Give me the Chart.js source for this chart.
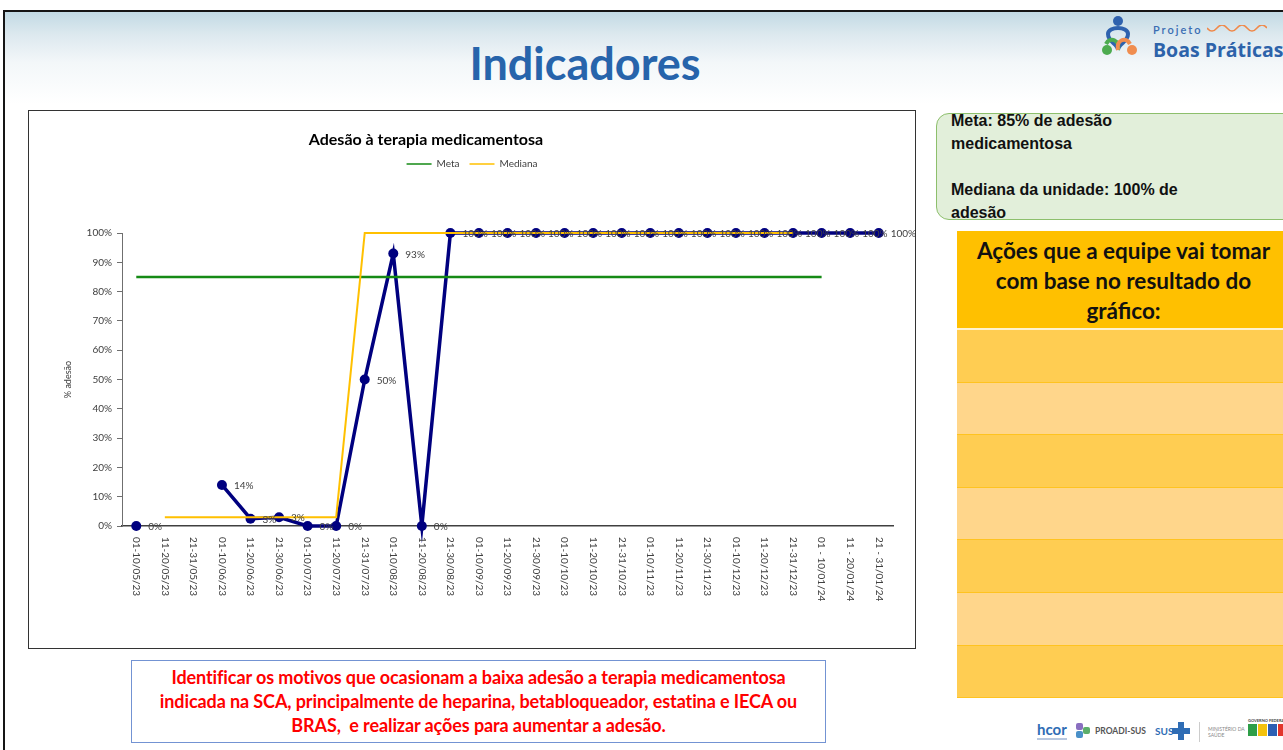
<!DOCTYPE html>
<html lang="pt-BR">
<head>
<meta charset="utf-8">
<title>Indicadores</title>
<script src="https://cdn.jsdelivr.net/npm/chart.js@4.4.1/dist/chart.umd.min.js"></script>
<style>
  html, body { margin: 0; padding: 0; }
  body { width: 1283px; height: 750px; position: relative; overflow: hidden; background: #fff; font-family: Lato, "Open Sans", sans-serif; }
  .frame-top { position: absolute; left: 3px; top: 10px; right: 0; height: 2px; background: #151515; }
  .frame-left { position: absolute; left: 3px; top: 10px; width: 2px; bottom: 0; background: #151515; }
  .header { position: absolute; left: 5px; top: 12px; right: 0; height: 92px; background: linear-gradient(#c2dae4 0%, #dde9ef 25%, #f3f7f9 55%, #fff 100%); }
  h1 { position: absolute; left: 0; width: 1170px; top: 36px; margin: 0; text-align: center; font: bold 45px Lato, sans-serif; color: #2764ab; line-height: 54px; }
  .logo { position: absolute; left: 1100px; top: 14px; width: 183px; height: 50px; overflow: hidden; }
  .logo .projeto { position: absolute; left: 53px; top: 9px; font: 600 11px Lato, sans-serif; letter-spacing: 2px; color: #3a6db3; }
  .logo .boas { position: absolute; left: 53px; top: 22px; font: bold 19.5px "Open Sans", sans-serif; color: #2d63aa; white-space: nowrap; }
  #chart-box { position: absolute; left: 28px; top: 110px; width: 888px; height: 539px; border: 1px solid #333; box-sizing: border-box; background: #fff; }
  #chart { display: block; }
  .meta-box { position: absolute; left: 936px; top: 113px; width: 380px; height: 107px; box-sizing: border-box; border: 1.5px solid #8dbf6c; border-radius: 13px; background: #e2efda; }
  .meta-text { position: absolute; left: 951px; top: 109px; font: bold 16px "Liberation Sans", Arial, sans-serif; line-height: 23px; color: #111; white-space: pre; }
  .acoes { position: absolute; left: 957px; top: 231px; width: 333px; }
  .acoes .head { height: 99px; background: #ffc000; box-sizing: border-box; border-bottom: 2px solid #fff3d0; text-align: center; font: bold 22.5px Lato, sans-serif; line-height: 30px; color: #111; padding-top: 5px; white-space: nowrap; }
  .acoes .row { height: 52.6px; box-sizing: border-box; border-bottom: 1px solid #ffc320; }
  .acoes .row.a { background: #ffcd52; }
  .acoes .row.b { background: #ffd68b; }
  .plano { position: absolute; left: 131px; top: 660px; width: 695px; height: 83px; box-sizing: border-box; border: 1.5px solid #7393d3; background: #fff; text-align: center; font: bold 18px Lato, sans-serif; line-height: 24px; color: #ff0000; padding-top: 4px; white-space: nowrap; letter-spacing: -0.1px; }
  .footer { position: absolute; left: 1030px; top: 718px; width: 253px; height: 30px; }
  .footer span { position: absolute; white-space: nowrap; }
</style>
</head>
<body>
<div class="header"></div>
<div class="frame-top"></div>
<div class="frame-left"></div>
<h1>Indicadores</h1>

<div class="logo">
  <svg width="50" height="50" viewBox="0 0 50 50" style="position:absolute;left:0;top:0">
    <circle cx="18" cy="7" r="5" fill="#2f62ae"/>
    <path d="M8 20 C8 12 28 12 28 20 C28 28 18 30 18 36 C18 30 8 28 8 20 Z" fill="none" stroke="#2f62ae" stroke-width="4"/>
    <path d="M6 30 C10 22 20 26 18 36" fill="none" stroke="#4cab4f" stroke-width="4"/>
    <path d="M30 30 C26 22 16 26 18 36" fill="none" stroke="#f08d4f" stroke-width="4"/>
    <circle cx="7" cy="36" r="5" fill="#4cab4f"/>
    <circle cx="32" cy="36" r="5" fill="#f08d4f"/>
  </svg>
  <span class="projeto">Projeto</span>
  <svg width="60" height="10" style="position:absolute;left:107px;top:11px"><path d="M0 3 Q5 9 10 3 T20 3 T30 3 T40 3 T50 3 T60 3" fill="none" stroke="#f0894a" stroke-width="1.5"/></svg>
  <span class="boas">Boas Práticas</span>
</div>

<div id="chart-box"><canvas id="chart" width="886" height="537"></canvas></div>

<div class="meta-box"></div>
<div class="meta-text">Meta: 85% de adesão
medicamentosa

Mediana da unidade: 100% de
adesão</div>

<div class="acoes">
  <div class="head">Ações que a equipe vai tomar<br>com base no resultado do<br>gráfico:</div>
  <div class="row a"></div>
  <div class="row b"></div>
  <div class="row a"></div>
  <div class="row b"></div>
  <div class="row a"></div>
  <div class="row b"></div>
  <div class="row a"></div>
</div>

<div class="plano">Identificar os motivos que ocasionam a baixa adesão a terapia medicamentosa<br>indicada na SCA, principalmente de heparina, betabloqueador, estatina e IECA ou<br>BRAS,&nbsp; e realizar ações para aumentar a adesão.</div>

<div class="footer">
  <span style="left:7px;top:2px;font:bold 15px Lato,sans-serif;color:#2f6db5">hcor</span>
  <span style="left:7px;top:20px;width:30px;height:2px;background:#b8c8e0"></span>
  <span style="left:46px;top:5px;width:7px;height:7px;background:#8a6fc0;border-radius:2px"></span>
  <span style="left:53px;top:9px;width:7px;height:7px;background:#5cae6a;border-radius:2px"></span>
  <span style="left:46px;top:13px;width:7px;height:7px;background:#4a90c8;border-radius:2px"></span>
  <span style="left:65px;top:8px;font:bold 8.5px Lato,sans-serif;color:#555">PROADI-SUS</span>
  <span style="left:125px;top:7px;font:bold 10px Lato,sans-serif;color:#2f6db5">SUS</span>
  <span style="left:148px;top:4px;width:6px;height:18px;background:#2f6db5"></span>
  <span style="left:142px;top:10px;width:18px;height:6px;background:#2f6db5"></span>
  <span style="left:169px;top:4px;width:1px;height:20px;background:#ccc"></span>
  <span style="left:178px;top:8px;font:5px Lato,sans-serif;color:#888">MINISTÉRIO DA<br>SAÚDE</span>
  <span style="left:218px;top:0px;font:bold 4px Lato,sans-serif;color:#444">GOVERNO FEDERAL</span>
  <span style="left:218px;top:6px;width:9px;height:12px;background:#2e9e48"></span>
  <span style="left:228px;top:6px;width:9px;height:12px;background:#f4c20d"></span>
  <span style="left:238px;top:6px;width:9px;height:12px;background:#2c5fb3"></span>
  <span style="left:248px;top:6px;width:9px;height:12px;background:#e2352c"></span>
</div>

<script>
const chartTitle = 'Adesão à terapia medicamentosa';
const yAxisTitle = '% adesão';

const periodos = [
  '01-10/05/23', '11-20/05/23', '21-31/05/23',
  '01-10/06/23', '11-20/06/23', '21-30/06/23',
  '01-10/07/23', '11-20/07/23', '21-31/07/23',
  '01-10/08/23', '11-20/08/23', '21-30/08/23',
  '01-10/09/23', '11-20/09/23', '21-30/09/23',
  '01-10/10/23', '11-20/10/23', '21-31/10/23',
  '01-10/11/23', '11-20/11/23', '21-30/11/23',
  '01-10/12/23', '11-20/12/23', '21-31/12/23',
  '01 - 10/01/24', '11 - 20/01/24', '21 - 31/01/24'
];

const adesao = [
  0, null, null,
  14, 2.5, 3,
  0, 0, 50,
  93, 0, 100,
  100, 100, 100,
  100, 100, 100,
  100, 100, 100,
  100, 100, 100,
  100, 100, 100
];

const meta = [
  85, 85, 85, 85, 85, 85, 85, 85, 85,
  85, 85, 85, 85, 85, 85, 85, 85, 85,
  85, 85, 85, 85, 85, 85, 85, null, null
];

const mediana = [
  null, 3, 3, 3, 3, 3, 3, 3, 100,
  100, 100, 100, 100, 100, 100, 100, 100, 100,
  100, 100, 100, 100, 100, 100, null, null, null
];

const yTicks = [0, 10, 20, 30, 40, 50, 60, 70, 80, 90, 100];

const PAD_TOP = 38;

Chart.defaults.font.family = 'Lato, "Open Sans", sans-serif';
Chart.defaults.color = '#404040';

// chart title drawn off-centre like the original slide
const titlePlugin = {
  id: 'slideTitle',
  afterDraw(chart) {
    const ctx = chart.ctx;
    ctx.save();
    ctx.font = 'bold 16px Lato, sans-serif';
    ctx.fillStyle = '#000';
    ctx.textAlign = 'center';
    ctx.textBaseline = 'middle';
    ctx.fillText(chartTitle, 397, 29);
    ctx.restore();
  }
};

// x labels read top to bottom
const xLabelsPlugin = {
  id: 'xLabelsDown',
  afterDraw(chart) {
    const ctx = chart.ctx;
    const x = chart.scales.x;
    ctx.save();
    ctx.font = '10px Lato, sans-serif';
    ctx.fillStyle = '#404040';
    ctx.textAlign = 'left';
    ctx.textBaseline = 'middle';
    periodos.forEach((lab, i) => {
      ctx.save();
      ctx.translate(x.getPixelForValue(i), x.top + 11);
      ctx.rotate(Math.PI / 2);
      ctx.fillText(lab, 0, 0);
      ctx.restore();
    });
    ctx.restore();
  }
};

const valueLabelsPlugin = {
  id: 'valueLabels',
  afterDatasetsDraw(chart) {
    const ctx = chart.ctx;
    const pts = chart.getDatasetMeta(0).data;
    ctx.save();
    ctx.font = '10px Lato, sans-serif';
    ctx.fillStyle = '#404040';
    ctx.textAlign = 'left';
    ctx.textBaseline = 'middle';
    pts.forEach((pt, i) => {
      if (adesao[i] === null) return;
      ctx.fillText(Math.round(adesao[i]) + '%', pt.x + 12, pt.y + 1);
    });
    ctx.restore();
  }
};

new Chart(document.getElementById('chart'), {
  type: 'line',
  data: {
    labels: periodos,
    datasets: [
      {
        label: 'Adesão',
        data: adesao,
        order: 3,
        clip: false,
        borderColor: '#00007f',
        backgroundColor: '#00007f',
        borderWidth: 3.5,
        pointRadius: 5,
        pointBackgroundColor: '#00007f',
        pointBorderColor: '#00007f',
        pointBorderWidth: 0,
        tension: 0,
        spanGaps: false
      },
      {
        label: 'Meta',
        data: meta,
        order: 2,
        clip: false,
        borderColor: '#158a15',
        backgroundColor: '#158a15',
        borderWidth: 2.5,
        pointRadius: 0,
        tension: 0
      },
      {
        label: 'Mediana',
        data: mediana,
        order: 1,
        clip: false,
        borderColor: '#ffc000',
        backgroundColor: '#ffc000',
        borderWidth: 2,
        pointRadius: 0,
        tension: 0
      }
    ]
  },
  options: {
    responsive: false,
    animation: false,
    events: [],
    layout: { padding: { top: PAD_TOP, right: 0, bottom: 0, left: 0 } },
    scales: {
      x: {
        offset: true,
        grid: { display: false },
        border: { display: true, color: '#404040', width: 1.5 },
        ticks: { display: false },
        afterFit: s => { s.height = 122; }
      },
      xTop: {
        type: 'category',
        position: 'top',
        grid: { display: false },
        border: { display: false },
        ticks: { display: false },
        afterFit: s => { s.height = 122 - PAD_TOP - s.chart.legend.height; }
      },
      y: {
        min: 0,
        max: 100,
        afterBuildTicks: s => { s.ticks = yTicks.map(v => ({ value: v })); },
        ticks: { callback: v => v + '%', padding: 5, color: '#404040', font: { size: 10 } },
        grid: { drawOnChartArea: false, drawTicks: true, tickLength: 5, color: '#6f6f6f' },
        border: { color: '#6f6f6f', width: 1 },
        title: { display: true, text: yAxisTitle, color: '#404040', font: { size: 9 }, padding: { top: 34, bottom: 0 } },
        afterFit: s => { s.width = 93; }
      },
      // empty right-hand spacer so the legend stays centred on the whole box
      yRight: {
        type: 'linear',
        position: 'right',
        grid: { display: false },
        border: { display: false },
        ticks: { display: false },
        afterFit: s => { s.width = 22; }
      }
    },
    plugins: {
      title: { display: false },
      tooltip: { enabled: false },
      legend: {
        position: 'top',
        labels: {
          usePointStyle: true,
          pointStyle: 'line',
          pointStyleWidth: 25,
          color: '#404040',
          font: { size: 10 },
          padding: 10,
          filter: item => item.datasetIndex > 0,
          sort: (a, b) => a.datasetIndex - b.datasetIndex,
          generateLabels: chart => Chart.defaults.plugins.legend.labels.generateLabels(chart)
            .map(item => Object.assign(item, { lineWidth: 1.5 }))
        }
      }
    }
  },
  plugins: [titlePlugin, xLabelsPlugin, valueLabelsPlugin]
});
</script>
</body>
</html>
